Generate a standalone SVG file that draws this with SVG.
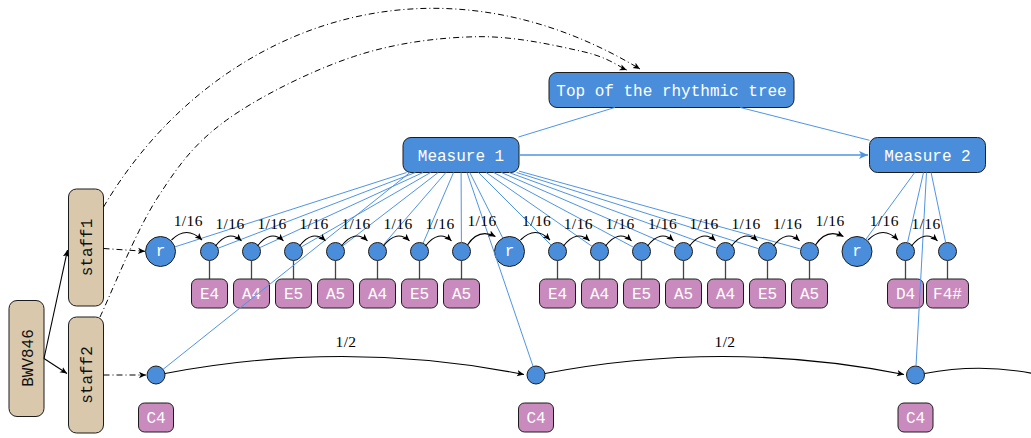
<svg xmlns="http://www.w3.org/2000/svg" width="1031" height="438" viewBox="0 0 1031 438">
<style>
.blue{fill:#4a8edb;stroke:#1c1c1c;stroke-width:1}
.pink{fill:#c98bbd;stroke:#1c1c1c;stroke-width:1}
.tan{fill:#d9c8ac;stroke:#1c1c1c;stroke-width:1}
.mono{font-family:"Liberation Mono","DejaVu Sans Mono",monospace;font-size:16px;text-anchor:middle}
.w{fill:#ffffff}
.k{fill:#111111}
.edge{stroke:#4f94e3;stroke-width:1;fill:none}
.arc{stroke:#000;stroke-width:1.1;fill:none;marker-end:url(#ah)}
.dd{stroke:#000;stroke-width:1;fill:none;stroke-dasharray:6 3 1 3;marker-end:url(#ah)}
.stem{stroke:#444;stroke-width:1.3}
.lbl{font-family:"Liberation Serif","DejaVu Serif",serif;font-size:15.5px;letter-spacing:0.4px;text-anchor:middle;fill:#000}
</style>
<defs>
<marker id="ah" viewBox="0 0 10 10" refX="10" refY="5" markerWidth="7" markerHeight="7" markerUnits="userSpaceOnUse" orient="auto"><path d="M0,0.5 L10,5 L0,9.5 L2.5,5 z" fill="#000"/></marker>
<marker id="ahb" viewBox="0 0 10 10" refX="10" refY="5" markerWidth="9" markerHeight="9" markerUnits="userSpaceOnUse" orient="auto"><path d="M0,0.5 L10,5 L0,9.5 L2.5,5 z" fill="#4f94e3"/></marker>
</defs>
<rect width="1031" height="438" fill="#fff"/>

<!-- nodes -->
<g id="top"><rect class="blue" x="549" y="72.5" width="245" height="35" rx="8"/><text class="mono w" x="671.5" y="95.5">Top of the rhythmic tree</text></g>
<g id="measure1"><rect class="blue" x="403" y="137.5" width="116" height="35" rx="8"/><text class="mono w" x="461" y="160.5">Measure 1</text></g>
<g id="measure2"><rect class="blue" x="869.5" y="137.5" width="116" height="35" rx="8"/><text class="mono w" x="927.5" y="160.5">Measure 2</text></g>
<g id="bwv846"><rect class="tan" x="9" y="300.5" width="35" height="116" rx="8"/><text class="mono k" transform="translate(32.5,358) rotate(-90)">BWV846</text></g>
<g id="staff1"><rect class="tan" x="68.5" y="189" width="35" height="117" rx="8"/><text class="mono k" transform="translate(91.5,247.5) rotate(-90)">staff1</text></g>
<g id="staff2"><rect class="tan" x="68.5" y="317" width="35" height="116" rx="8"/><text class="mono k" transform="translate(91.5,375) rotate(-90)">staff2</text></g>

<g id="rest1"><circle class="blue" cx="160.5" cy="251.5" r="15"/><text class="mono w" x="160.5" y="256">r</text></g>
<g id="rest2"><circle class="blue" cx="509.5" cy="251.5" r="15"/><text class="mono w" x="509.5" y="256">r</text></g>
<g id="rest3"><circle class="blue" cx="857" cy="251.5" r="15"/><text class="mono w" x="857" y="256">r</text></g>

<g id="n1"><circle class="blue" cx="209.5" cy="251.5" r="9"/><line class="stem" x1="209.5" y1="260.5" x2="209.5" y2="279"/><rect class="pink" x="191.5" y="279" width="36" height="29" rx="6"/><text class="mono w" x="209.5" y="298.5">E4</text></g>
<g id="n2"><circle class="blue" cx="251.5" cy="251.5" r="9"/><line class="stem" x1="251.5" y1="260.5" x2="251.5" y2="279"/><rect class="pink" x="233.5" y="279" width="36" height="29" rx="6"/><text class="mono w" x="251.5" y="298.5">A4</text></g>
<g id="n3"><circle class="blue" cx="293.5" cy="251.5" r="9"/><line class="stem" x1="293.5" y1="260.5" x2="293.5" y2="279"/><rect class="pink" x="275.5" y="279" width="36" height="29" rx="6"/><text class="mono w" x="293.5" y="298.5">E5</text></g>
<g id="n4"><circle class="blue" cx="335.5" cy="251.5" r="9"/><line class="stem" x1="335.5" y1="260.5" x2="335.5" y2="279"/><rect class="pink" x="317.5" y="279" width="36" height="29" rx="6"/><text class="mono w" x="335.5" y="298.5">A5</text></g>
<g id="n5"><circle class="blue" cx="377.5" cy="251.5" r="9"/><line class="stem" x1="377.5" y1="260.5" x2="377.5" y2="279"/><rect class="pink" x="359.5" y="279" width="36" height="29" rx="6"/><text class="mono w" x="377.5" y="298.5">A4</text></g>
<g id="n6"><circle class="blue" cx="419.5" cy="251.5" r="9"/><line class="stem" x1="419.5" y1="260.5" x2="419.5" y2="279"/><rect class="pink" x="401.5" y="279" width="36" height="29" rx="6"/><text class="mono w" x="419.5" y="298.5">E5</text></g>
<g id="n7"><circle class="blue" cx="461.5" cy="251.5" r="9"/><line class="stem" x1="461.5" y1="260.5" x2="461.5" y2="279"/><rect class="pink" x="443.5" y="279" width="36" height="29" rx="6"/><text class="mono w" x="461.5" y="298.5">A5</text></g>

<g id="m1"><circle class="blue" cx="557.5" cy="251.5" r="9"/><line class="stem" x1="557.5" y1="260.5" x2="557.5" y2="279"/><rect class="pink" x="539.5" y="279" width="36" height="29" rx="6"/><text class="mono w" x="557.5" y="298.5">E4</text></g>
<g id="m2"><circle class="blue" cx="599.5" cy="251.5" r="9"/><line class="stem" x1="599.5" y1="260.5" x2="599.5" y2="279"/><rect class="pink" x="581.5" y="279" width="36" height="29" rx="6"/><text class="mono w" x="599.5" y="298.5">A4</text></g>
<g id="m3"><circle class="blue" cx="641.5" cy="251.5" r="9"/><line class="stem" x1="641.5" y1="260.5" x2="641.5" y2="279"/><rect class="pink" x="623.5" y="279" width="36" height="29" rx="6"/><text class="mono w" x="641.5" y="298.5">E5</text></g>
<g id="m4"><circle class="blue" cx="683.5" cy="251.5" r="9"/><line class="stem" x1="683.5" y1="260.5" x2="683.5" y2="279"/><rect class="pink" x="665.5" y="279" width="36" height="29" rx="6"/><text class="mono w" x="683.5" y="298.5">A5</text></g>
<g id="m5"><circle class="blue" cx="725.5" cy="251.5" r="9"/><line class="stem" x1="725.5" y1="260.5" x2="725.5" y2="279"/><rect class="pink" x="707.5" y="279" width="36" height="29" rx="6"/><text class="mono w" x="725.5" y="298.5">A4</text></g>
<g id="m6"><circle class="blue" cx="767.5" cy="251.5" r="9"/><line class="stem" x1="767.5" y1="260.5" x2="767.5" y2="279"/><rect class="pink" x="749.5" y="279" width="36" height="29" rx="6"/><text class="mono w" x="767.5" y="298.5">E5</text></g>
<g id="m7"><circle class="blue" cx="809.5" cy="251.5" r="9"/><line class="stem" x1="809.5" y1="260.5" x2="809.5" y2="279"/><rect class="pink" x="791.5" y="279" width="36" height="29" rx="6"/><text class="mono w" x="809.5" y="298.5">A5</text></g>

<g id="d4"><circle class="blue" cx="905.5" cy="251.5" r="9"/><line class="stem" x1="905.5" y1="260.5" x2="905.5" y2="279"/><rect class="pink" x="887.5" y="279" width="36" height="29" rx="6"/><text class="mono w" x="905.5" y="298.5">D4</text></g>
<g id="f4s"><circle class="blue" cx="947.5" cy="251.5" r="9"/><line class="stem" x1="947.5" y1="260.5" x2="947.5" y2="279"/><rect class="pink" x="926.5" y="279" width="42" height="29" rx="6"/><text class="mono w" x="947.5" y="298.5">F4#</text></g>

<g id="c4a"><circle class="blue" cx="156" cy="375" r="9"/><rect class="pink" x="138.5" y="403" width="35" height="29" rx="6"/><text class="mono w" x="156" y="422.5">C4</text></g>
<g id="c4b"><circle class="blue" cx="536" cy="375" r="9"/><rect class="pink" x="518.5" y="403" width="35" height="29" rx="6"/><text class="mono w" x="536" y="422.5">C4</text></g>
<g id="c4c"><circle class="blue" cx="915.5" cy="375" r="9"/><rect class="pink" x="898" y="403" width="35" height="29" rx="6"/><text class="mono w" x="915.5" y="422.5">C4</text></g>

<!-- connectors -->
<g id="connectors">
<g id="tree-edges">
<line class="edge" x1="614.8" y1="107.5" x2="518.5" y2="137"/>
<line class="edge" x1="740.4" y1="107.5" x2="869.5" y2="140.3"/>
<line class="edge" x1="406.5" y1="172.5" x2="174.8" y2="246.9"/>
<line class="edge" x1="415.4" y1="172.5" x2="217.9" y2="248.3"/>
<line class="edge" x1="423" y1="172.5" x2="259.7" y2="247.7"/>
<line class="edge" x1="430.6" y1="172.5" x2="301.3" y2="247"/>
<line class="edge" x1="438.2" y1="172.5" x2="342.6" y2="246"/>
<line class="edge" x1="445.9" y1="172.5" x2="383.4" y2="244.7"/>
<line class="edge" x1="453.5" y1="172.5" x2="423.1" y2="243.2"/>
<line class="edge" x1="461.1" y1="172.5" x2="461.4" y2="242.5"/>
<line class="edge" x1="469.8" y1="172.5" x2="502.8" y2="238.1"/>
<line class="edge" x1="478.5" y1="172.5" x2="551.1" y2="245.1"/>
<line class="edge" x1="486.1" y1="172.5" x2="592.1" y2="246.4"/>
<line class="edge" x1="493.7" y1="172.5" x2="633.6" y2="247.3"/>
<line class="edge" x1="501.4" y1="172.5" x2="675.2" y2="247.9"/>
<line class="edge" x1="509" y1="172.5" x2="717.1" y2="248.4"/>
<line class="edge" x1="516.6" y1="172.5" x2="758.9" y2="248.8"/>
<line class="edge" x1="519" y1="171.1" x2="800.8" y2="249.1"/>
<line class="edge" x1="410" y1="172.5" x2="163" y2="369.4"/>
<line class="edge" x1="467" y1="172.5" x2="533.1" y2="366.5"/>
<line class="edge" x1="914.7" y1="172.5" x2="865.8" y2="239.4"/>
<line class="edge" x1="923.5" y1="172.5" x2="907.5" y2="242.7"/>
<line class="edge" x1="931.1" y1="172.5" x2="945.7" y2="242.7"/>
<line class="edge" x1="926.5" y1="172.5" x2="916" y2="366"/>
<line x1="519.5" y1="155" x2="868" y2="155" stroke="#4f94e3" stroke-width="1.3" marker-end="url(#ahb)"/>
</g>
<g id="score-edges">
<line x1="44" y1="358.5" x2="67.5" y2="250" stroke="#000" stroke-width="1.1" marker-end="url(#ah)"/>
<line x1="44" y1="358.5" x2="67" y2="373.5" stroke="#000" stroke-width="1.1" marker-end="url(#ah)"/>
<line class="dd" x1="103.5" y1="248.5" x2="145" y2="251.3"/>
<line class="dd" x1="103.5" y1="375" x2="146" y2="375"/>
<path class="dd" d="M103.5,207 C208,30 426,-59.5 640,69"/>
<path class="dd" d="M100,317 C109.5,297.3 135.6,231.8 156.7,199 C177.8,166.2 193.9,143.7 226.7,120 C259.5,96.3 311.6,70.6 353.3,56.7 C395,42.8 438.4,37.5 476.7,36.7 C515,35.9 558.3,46.1 583.3,51.7 C608.3,57.3 619.5,67 626.7,70"/>
</g>
<g id="duration-arcs">
<path class="arc" d="M171.5,240 Q186.5,225 202,240"/>
<path class="arc" d="M215.5,246 Q228.5,229 241.5,240.8"/>
<path class="arc" d="M257.5,246 Q270.5,229 283.5,240.8"/>
<path class="arc" d="M299.5,246 Q312.5,229 325.5,240.8"/>
<path class="arc" d="M341.5,246 Q354.5,229 367.5,240.8"/>
<path class="arc" d="M383.5,246 Q396.5,229 409.5,240.8"/>
<path class="arc" d="M425.5,246 Q438.5,229 451.5,240.8"/>
<path class="arc" d="M467.5,245 Q478.5,228 495.5,236.5"/>
<path class="arc" d="M520.5,240 Q535.5,225 550,240"/>
<path class="arc" d="M563.5,246 Q576.5,229 589.5,240.8"/>
<path class="arc" d="M605.5,246 Q618.5,229 631.5,240.8"/>
<path class="arc" d="M647.5,246 Q660.5,229 673.5,240.8"/>
<path class="arc" d="M689.5,246 Q702.5,229 715.5,240.8"/>
<path class="arc" d="M731.5,246 Q744.5,229 757.5,240.8"/>
<path class="arc" d="M773.5,246 Q786.5,229 799.5,240.8"/>
<path class="arc" d="M815.5,245 Q826.5,228 843.5,236.5"/>
<path class="arc" d="M868,240 Q883,225 898,240"/>
<path class="arc" d="M911.5,246 Q924.5,229 937.5,240.8"/>
<path class="arc" d="M165,373.5 Q345,339 524,374.5"/>
<path class="arc" d="M545,373.5 Q725,339 904,374.5"/>
<path d="M924.5,373.5 Q985,362 1045,376" stroke="#000" stroke-width="1.1" fill="none"/>
</g>
<g id="labels">
<text class="lbl" x="188.3" y="226">1/16</text>
<text class="lbl" x="230" y="228.5">1/16</text>
<text class="lbl" x="272" y="228.5">1/16</text>
<text class="lbl" x="314" y="228.5">1/16</text>
<text class="lbl" x="356" y="228.5">1/16</text>
<text class="lbl" x="398" y="228.5">1/16</text>
<text class="lbl" x="440" y="228.5">1/16</text>
<text class="lbl" x="482" y="226">1/16</text>
<text class="lbl" x="536.7" y="226">1/16</text>
<text class="lbl" x="578.3" y="228.5">1/16</text>
<text class="lbl" x="620" y="228.5">1/16</text>
<text class="lbl" x="662.5" y="228.5">1/16</text>
<text class="lbl" x="704" y="228.5">1/16</text>
<text class="lbl" x="746" y="228.5">1/16</text>
<text class="lbl" x="787.5" y="228.5">1/16</text>
<text class="lbl" x="830" y="226">1/16</text>
<text class="lbl" x="884.3" y="226">1/16</text>
<text class="lbl" x="926" y="228.5">1/16</text>
<text class="lbl" x="346" y="347">1/2</text>
<text class="lbl" x="725" y="347">1/2</text>
</g>
</g>
</svg>
